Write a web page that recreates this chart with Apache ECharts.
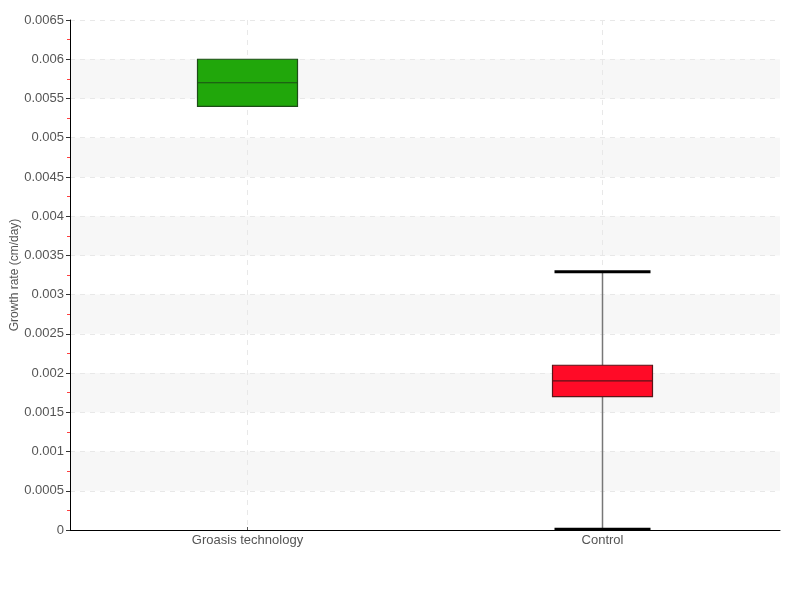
<!DOCTYPE html>
<html><head><meta charset="utf-8">
<script src="https://cdn.jsdelivr.net/npm/echarts@6/dist/echarts.min.js"></script>
<style>html,body{margin:0;padding:0;background:#fff}#c{width:800px;height:600px}</style>
</head><body><div id="c"></div>
<script>
const categories = ['Groasis technology', 'Control'];
const minVals = [0.0054, 0.00001];
const q1Vals = [0.0054, 0.0017];
const medianVals = [0.0057, 0.0019];
const q3Vals = [0.0060, 0.0021];
const maxVals = [0.0060, 0.00329];
const fills = ['#21a70b', '#ff0b27'];
const borders = ['#1d4d17', '#5a1518'];

const FONT = "'Liberation Sans', sans-serif";
const data = categories.map((c, i) => [i, minVals[i], q1Vals[i], medianVals[i], q3Vals[i], maxVals[i]]);

const chart = echarts.init(document.getElementById('c'));
chart.setOption({
  animation: false,
  grid: { left: 70, right: 20, top: 20, bottom: 70, containLabel: false, outerBoundsMode: 'none' },
  xAxis: {
    type: 'category', data: categories, boundaryGap: true,
    axisLine: { lineStyle: { color: '#000', width: 1 } },
    axisTick: { show: true, alignWithLabel: true, inside: true, length: 3, lineStyle: { color: '#555' } },
    axisLabel: { color: '#555', fontFamily: FONT, fontSize: 13, margin: 4 },
    splitLine: { show: true, alignWithLabel: true, lineStyle: { color: '#e8e8e8', type: [5, 5] } }
  },
  yAxis: {
    type: 'value', min: 0, max: 0.0065, interval: 0.0005,
    name: 'Growth rate (cm/day)', nameLocation: 'middle', nameGap: 49, nameMoveOverlap: false,
    nameTextStyle: { color: '#555', fontFamily: FONT, fontSize: 12 },
    axisLine: { show: true, lineStyle: { color: '#000' } },
    axisTick: { show: true, length: 4, lineStyle: { color: '#333' } },
    minorTick: { show: true, splitNumber: 2, length: 3, lineStyle: { color: '#ff4040' } },
    axisLabel: { color: '#555', fontFamily: FONT, fontSize: 13, margin: 6,
      formatter: v => String(parseFloat(v.toFixed(5))) },
    splitLine: { show: true, lineStyle: { color: '#e8e8e8', type: [5, 5] } },
    splitArea: { show: true, areaStyle: { color: ['rgba(255,255,255,0)', '#f7f7f7'] } }
  },
  series: [{
    type: 'custom',
    data: data,
    renderItem: function (params, api) {
      const i = api.value(0);
      const mn = api.value(1), q1 = api.value(2), md = api.value(3), q3 = api.value(4), mx = api.value(5);
      const bw = 100, cw = 96;
      const pMin = api.coord([i, mn]), pQ1 = api.coord([i, q1]), pMd = api.coord([i, md]),
            pQ3 = api.coord([i, q3]), pMax = api.coord([i, mx]);
      const x = pMd[0];
      const children = [];
      if (mx > q3) {
        children.push({ type: 'line', shape: { x1: x, y1: pMax[1], x2: x, y2: pQ3[1] }, style: { stroke: '#777', lineWidth: 1.5 } });
        children.push({ type: 'line', shape: { x1: x - cw / 2, y1: pMax[1], x2: x + cw / 2, y2: pMax[1] }, style: { stroke: '#000', lineWidth: 3 } });
      }
      if (mn < q1) {
        children.push({ type: 'line', shape: { x1: x, y1: pMin[1], x2: x, y2: pQ1[1] }, style: { stroke: '#777', lineWidth: 1.5 } });
        children.push({ type: 'line', shape: { x1: x - cw / 2, y1: pMin[1], x2: x + cw / 2, y2: pMin[1] }, style: { stroke: '#000', lineWidth: 3 } });
      }
      children.push({ type: 'rect', shape: { x: x - bw / 2, y: pQ3[1], width: bw, height: pQ1[1] - pQ3[1] },
        style: { fill: fills[i], stroke: borders[i], lineWidth: 1.2 } });
      children.push({ type: 'line', shape: { x1: x - bw / 2, y1: pMd[1], x2: x + bw / 2, y2: pMd[1] },
        style: { stroke: borders[i], lineWidth: 1.2 } });
      return { type: 'group', children: children };
    }
  }]
});
</script></body></html>
